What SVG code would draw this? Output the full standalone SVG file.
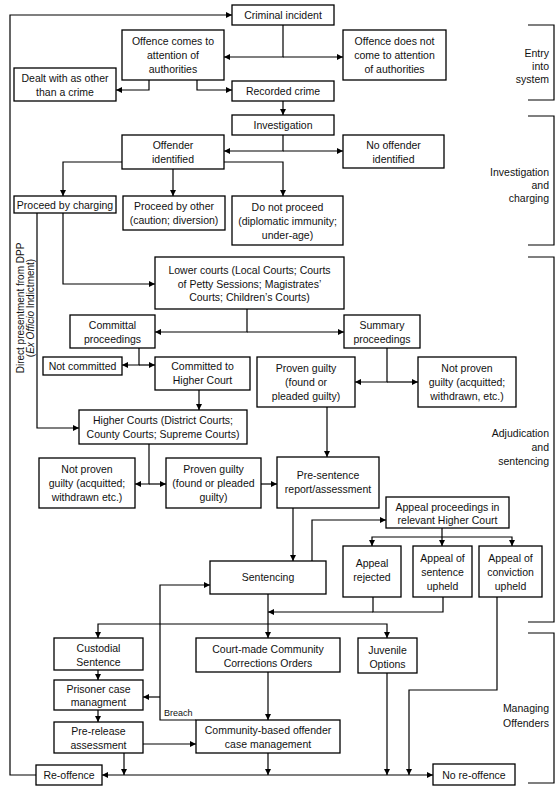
<svg xmlns="http://www.w3.org/2000/svg" width="560" height="790" viewBox="0 0 560 790">
<defs>
<marker id="ah" markerWidth="6" markerHeight="6" refX="6" refY="3" orient="auto-start-reverse" markerUnits="userSpaceOnUse">
<path d="M0,0 L6,3 L0,6 z" fill="#000"/>
</marker>
<style>
.box{fill:#fff;stroke:#000;stroke-width:1.3}
text{font-family:"Liberation Sans",Arial,sans-serif;font-size:10.5px;fill:#111}
.c{text-anchor:middle}
.r{text-anchor:end}
.ln{fill:none;stroke:#000;stroke-width:1.2}
.a{marker-end:url(#ah)}
.b{marker-start:url(#ah);marker-end:url(#ah)}
.br{fill:none;stroke:#000;stroke-width:1.2}
</style>
</defs>
<rect width="560" height="790" fill="#fff"/>

<g id="connectors">
<path class="ln a" d="M36,775 H10 V15 H232"/>
<path class="ln a" d="M283,25 V57 H224"/>
<path class="ln a" d="M283,57 H343"/>
<path class="ln a" d="M149,80 V90 H116"/>
<path class="ln a" d="M197,80 V90 H232"/>
<path class="ln a" d="M283,101 V115"/>
<path class="ln a" d="M283,135 V151 H224"/>
<path class="ln a" d="M283,151 H343"/>
<path class="ln a" d="M122,162 H63 V196"/>
<path class="ln a" d="M173,169 V196"/>
<path class="ln a" d="M224,162 H283 V196"/>
<path class="ln a" d="M63,213 V284 H155"/>
<path class="ln a" d="M37,213 V428 H79"/>
<path class="ln a" d="M247,309 V332 H155"/>
<path class="ln a" d="M247,332 H344"/>
<path class="ln a" d="M139,348 V365 H122"/>
<path class="ln a" d="M139,365 H155"/>
<path class="ln a" d="M199,390 V410"/>
<path class="ln a" d="M149,444 V484 H135"/>
<path class="ln a" d="M149,484 H166"/>
<path class="ln a" d="M261,484 H277"/>
<path class="ln a" d="M387,348 V382 H355"/>
<path class="ln a" d="M387,382 H418"/>
<path class="ln a" d="M327,407 V457"/>
<path class="ln a" d="M293,508 V561"/>
<path class="ln a" d="M312,561 V520 H386"/>
<path class="ln b" d="M372,546 V537 H512 V546"/>
<path class="ln a" d="M442,528 V546"/>
<path class="ln" d="M373,597 V612 H443 V597"/>
<path class="ln a" d="M373,612 H268"/>
<path class="ln a" d="M268,594 V638"/>
<path class="ln b" d="M98,638 V624 H387 V638"/>
<path class="ln a" d="M98,670 V680"/>
<path class="ln a" d="M98,710 V722"/>
<path class="ln a" d="M143,744 H196"/>
<path class="ln a" d="M268,672 V720"/>
<path class="ln a" d="M196,720 H160 V585 H210"/>
<path class="ln a" d="M160,697 H143"/>
<path class="ln a" d="M124,753 V775"/>
<path class="ln a" d="M268,753 V775"/>
<path class="ln a" d="M387,673 V775"/>
<path class="ln a" d="M497,597 V690 H409 V775"/>
<path class="ln b" d="M102,775 H433"/>
</g>

<g id="labels">
<text x="164" y="716" style="font-size:9px">Breach</text>
<text transform="translate(23.5,308) rotate(-90)" class="c" style="font-size:10px">Direct presentment from DPP</text>
<text transform="translate(33.5,308) rotate(-90)" class="c" style="font-size:10px">(<tspan font-style="italic">Ex Officio</tspan> Indictment)</text>
</g>

<g id="stages">
<path class="br" d="M528,25 H554 V100 H528"/>
<text class="r" x="549" y="57">Entry</text><text class="r" x="549" y="70">into</text><text class="r" x="549" y="83">system</text>
<path class="br" d="M528,116 H554 V245 H528"/>
<text class="r" x="549" y="176">Investigation</text><text class="r" x="549" y="189">and</text><text class="r" x="549" y="202">charging</text>
<path class="br" d="M528,257 H554 V622 H528"/>
<text class="r" x="549" y="437">Adjudication</text><text class="r" x="549" y="451">and</text><text class="r" x="549" y="465">sentencing</text>
<path class="br" d="M528,633 H554 V783 H528"/>
<text class="r" x="549" y="712">Managing</text><text class="r" x="549" y="727">Offenders</text>
</g>

<g id="n-criminal"><rect class="box" x="232" y="5" width="102" height="20"/><text class="c" x="283" y="19">Criminal incident</text></g>
<g id="n-comes"><rect class="box" x="122" y="30" width="102" height="50"/><text class="c" x="173" y="45">Offence comes to</text><text class="c" x="173" y="59">attention of</text><text class="c" x="173" y="73">authorities</text></g>
<g id="n-notcome"><rect class="box" x="343" y="30" width="103" height="50"/><text class="c" x="394.5" y="45">Offence does not</text><text class="c" x="394.5" y="59">come to attention</text><text class="c" x="394.5" y="73">of authorities</text></g>
<g id="n-dealt"><rect class="box" x="14" y="68" width="102" height="33"/><text class="c" x="65" y="82">Dealt with as other</text><text class="c" x="65" y="96">than a crime</text></g>
<g id="n-recorded"><rect class="box" x="232" y="81" width="102" height="20"/><text class="c" x="283" y="95">Recorded crime</text></g>
<g id="n-investigation"><rect class="box" x="232" y="115" width="102" height="20"/><text class="c" x="283" y="129">Investigation</text></g>
<g id="n-offender"><rect class="box" x="122" y="135" width="102" height="34"/><text class="c" x="173" y="149">Offender</text><text class="c" x="173" y="163">identified</text></g>
<g id="n-nooffender"><rect class="box" x="343" y="135" width="101" height="33"/><text class="c" x="393.5" y="149">No offender</text><text class="c" x="393.5" y="163">identified</text></g>
<g id="n-charging"><rect class="box" x="14" y="196" width="102" height="17"/><text class="c" x="65" y="209">Proceed by charging</text></g>
<g id="n-other"><rect class="box" x="123" y="196" width="102" height="34"/><text class="c" x="174" y="210">Proceed by other</text><text class="c" x="174" y="224">(caution; diversion)</text></g>
<g id="n-donot"><rect class="box" x="232" y="196" width="111" height="49"/><text class="c" x="287.5" y="211">Do not proceed</text><text class="c" x="287.5" y="225">(diplomatic immunity;</text><text class="c" x="287.5" y="239">under-age)</text></g>
<g id="n-lower"><rect class="box" x="155" y="257" width="189" height="52"/><text class="c" x="249.5" y="274">Lower courts (Local Courts; Courts</text><text class="c" x="249.5" y="288">of Petty Sessions; Magistrates’</text><text class="c" x="249.5" y="301">Courts; Children’s Courts)</text></g>
<g id="n-committal"><rect class="box" x="70" y="315" width="85" height="33"/><text class="c" x="112.5" y="329">Committal</text><text class="c" x="112.5" y="343">proceedings</text></g>
<g id="n-summary"><rect class="box" x="344" y="315" width="76" height="33"/><text class="c" x="382" y="329">Summary</text><text class="c" x="382" y="343">proceedings</text></g>
<g id="n-notcommitted"><rect class="box" x="43" y="357" width="79" height="18"/><text class="c" x="82.5" y="370">Not committed</text></g>
<g id="n-committed"><rect class="box" x="155" y="357" width="95" height="33"/><text class="c" x="202.5" y="370">Committed to</text><text class="c" x="202.5" y="384">Higher Court</text></g>
<g id="n-proven-m"><rect class="box" x="257" y="357" width="98" height="50"/><text class="c" x="306" y="372">Proven guilty</text><text class="c" x="306" y="386">(found or</text><text class="c" x="306" y="400">pleaded guilty)</text></g>
<g id="n-notproven-r"><rect class="box" x="418" y="357" width="98" height="50"/><text class="c" x="467" y="372">Not proven</text><text class="c" x="467" y="386">guilty (acquitted;</text><text class="c" x="467" y="400">withdrawn, etc.)</text></g>
<g id="n-higher"><rect class="box" x="79" y="410" width="168" height="34"/><text class="c" x="163" y="424">Higher Courts (District Courts;</text><text class="c" x="163" y="438">County Courts; Supreme Courts)</text></g>
<g id="n-notproven-l"><rect class="box" x="39" y="458" width="96" height="50"/><text class="c" x="87" y="473">Not proven</text><text class="c" x="87" y="487">guilty (acquitted;</text><text class="c" x="87" y="501">withdrawn etc.)</text></g>
<g id="n-proven-l"><rect class="box" x="166" y="458" width="95" height="50"/><text class="c" x="213.5" y="473">Proven guilty</text><text class="c" x="213.5" y="487">(found or pleaded</text><text class="c" x="213.5" y="501">guilty)</text></g>
<g id="n-presentence"><rect class="box" x="277" y="457" width="102" height="51"/><text class="c" x="328" y="479">Pre-sentence</text><text class="c" x="328" y="493">report/assessment</text></g>
<g id="n-appeal"><rect class="box" x="386" y="497" width="123" height="31"/><text class="c" x="447.5" y="511">Appeal proceedings in</text><text class="c" x="447.5" y="524">relevant Higher Court</text></g>
<g id="n-sentencing"><rect class="box" x="210" y="561" width="116" height="33"/><text class="c" x="268" y="581">Sentencing</text></g>
<g id="n-rejected"><rect class="box" x="343" y="546" width="58" height="51"/><text class="c" x="372" y="567">Appeal</text><text class="c" x="372" y="581">rejected</text></g>
<g id="n-sentupheld"><rect class="box" x="413" y="546" width="59" height="51"/><text class="c" x="442.5" y="562">Appeal of</text><text class="c" x="442.5" y="576">sentence</text><text class="c" x="442.5" y="590">upheld</text></g>
<g id="n-convupheld"><rect class="box" x="479" y="546" width="63" height="51"/><text class="c" x="510.5" y="562">Appeal of</text><text class="c" x="510.5" y="576">conviction</text><text class="c" x="510.5" y="590">upheld</text></g>
<g id="n-custodial"><rect class="box" x="54" y="638" width="89" height="32"/><text class="c" x="98.5" y="652">Custodial</text><text class="c" x="98.5" y="666">Sentence</text></g>
<g id="n-courtmade"><rect class="box" x="196" y="638" width="144" height="34"/><text class="c" x="268" y="653">Court-made Community</text><text class="c" x="268" y="667">Corrections Orders</text></g>
<g id="n-juvenile"><rect class="box" x="358" y="638" width="59" height="35"/><text class="c" x="387.5" y="654">Juvenile</text><text class="c" x="387.5" y="668">Options</text></g>
<g id="n-prisoner"><rect class="box" x="54" y="680" width="89" height="30"/><text class="c" x="98.5" y="693">Prisoner case</text><text class="c" x="98.5" y="706">managment</text></g>
<g id="n-prerelease"><rect class="box" x="54" y="722" width="89" height="31"/><text class="c" x="98.5" y="735">Pre-release</text><text class="c" x="98.5" y="749">assessment</text></g>
<g id="n-community"><rect class="box" x="196" y="720" width="144" height="33"/><text class="c" x="268" y="734">Community-based offender</text><text class="c" x="268" y="748">case management</text></g>
<g id="n-reoffence"><rect class="box" x="36" y="765" width="66" height="20"/><text class="c" x="69" y="779">Re-offence</text></g>
<g id="n-noreoffence"><rect class="box" x="433" y="764" width="82" height="21"/><text class="c" x="474" y="779">No re-offence</text></g>
</svg>
